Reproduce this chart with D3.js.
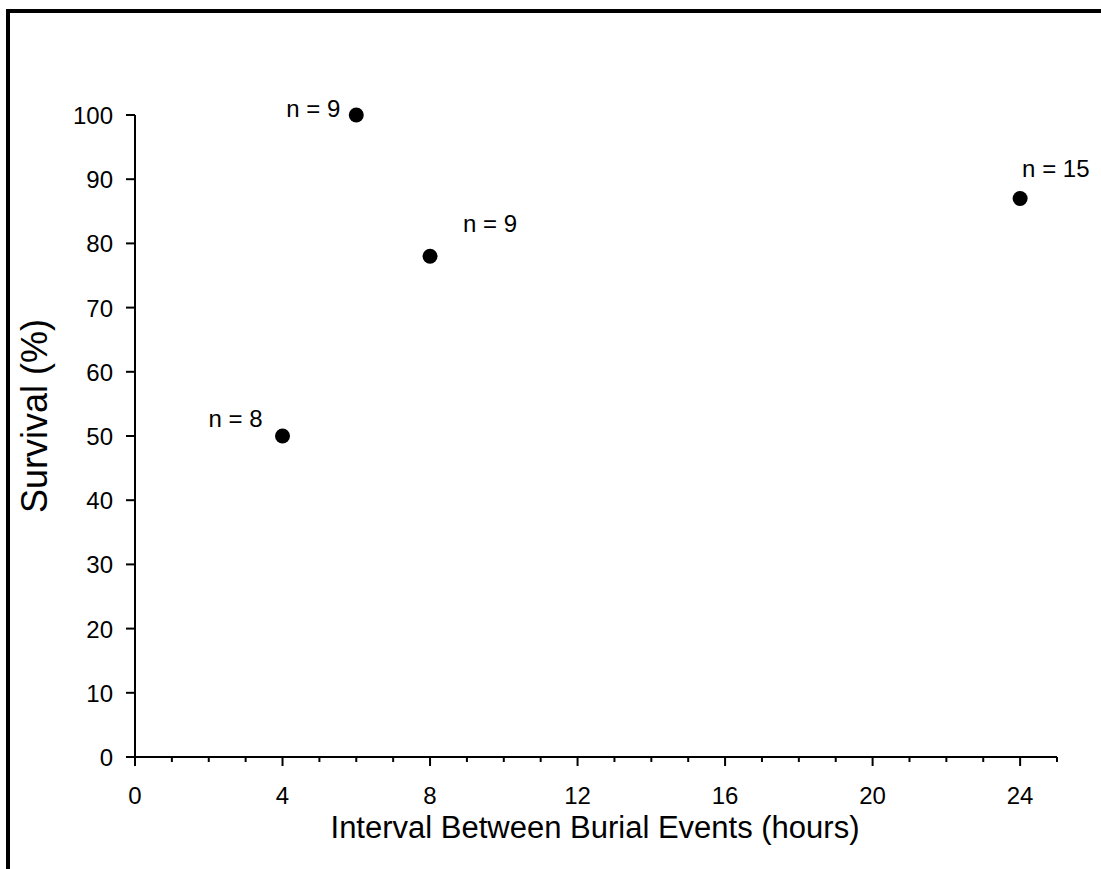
<!DOCTYPE html>
<html>
<head>
<meta charset="utf-8">
<script src="https://cdn.jsdelivr.net/npm/d3@7"></script>
<style>
  body { margin: 0; background: #fff; }
  svg text { font-family: "Liberation Sans", Arial, sans-serif; fill: #000; }
</style>
</head>
<body>
<div id="chart"></div>
<script>
// data
const intervals = [4, 6, 8, 24];
const survival = [50, 100, 78, 87];
const nLabels = ["n = 8", "n = 9", "n = 9", "n = 15"];
const xTicks = [0, 4, 8, 12, 16, 20, 24];
const yTicks = [0, 10, 20, 30, 40, 50, 60, 70, 80, 90, 100];

const W = 1101, H = 869;
const margin = {top: 115, right: 44, bottom: 112, left: 135};

const svg = d3.select("#chart").append("svg")
    .attr("width", W)
    .attr("height", H);

// frame (top and left only, the picture is cropped)
svg.append("line").attr("x1", 8).attr("x2", 8).attr("y1", 9).attr("y2", H)
    .attr("stroke", "#000").attr("stroke-width", 4);
svg.append("line").attr("x1", 6).attr("x2", W).attr("y1", 11).attr("y2", 11)
    .attr("stroke", "#000").attr("stroke-width", 4);

const x = d3.scaleLinear().domain([0, 25]).range([margin.left, W - margin.right]);
const y = d3.scaleLinear().domain([0, 100]).range([H - margin.bottom, margin.top]);

// x axis with minor ticks every hour
const xAxis = svg.append("g").attr("transform", "translate(0," + y(0) + ")");
xAxis.append("line")
    .attr("x1", x(0) - 9).attr("x2", x(25))
    .attr("stroke", "#000").attr("stroke-width", 2);
xAxis.selectAll("line.minor")
    .data(d3.range(1, 26).filter(d => d % 4 !== 0))
    .join("line")
    .attr("class", "minor")
    .attr("x1", d => x(d)).attr("x2", d => x(d))
    .attr("y1", 0).attr("y2", 5)
    .attr("stroke", "#000").attr("stroke-width", 2);
xAxis.selectAll("line.major")
    .data(xTicks)
    .join("line")
    .attr("class", "major")
    .attr("x1", d => x(d)).attr("x2", d => x(d))
    .attr("y1", 0).attr("y2", 9)
    .attr("stroke", "#000").attr("stroke-width", 2);
xAxis.selectAll("text")
    .data(xTicks)
    .join("text")
    .attr("x", d => x(d))
    .attr("y", 47)
    .attr("text-anchor", "middle")
    .attr("font-size", 24)
    .text(d => d);

// y axis
const yAxis = svg.append("g").attr("transform", "translate(" + x(0) + ",0)");
yAxis.append("line")
    .attr("y1", y(0)).attr("y2", y(100))
    .attr("stroke", "#000").attr("stroke-width", 2);
yAxis.selectAll("line.tick")
    .data(yTicks)
    .join("line")
    .attr("class", "tick")
    .attr("x1", -9).attr("x2", 0)
    .attr("y1", d => y(d)).attr("y2", d => y(d))
    .attr("stroke", "#000").attr("stroke-width", 2);
yAxis.selectAll("text")
    .data(yTicks)
    .join("text")
    .attr("x", -22)
    .attr("y", d => y(d) + 9)
    .attr("text-anchor", "end")
    .attr("font-size", 24)
    .text(d => d);

// axis titles
svg.append("text")
    .attr("x", 595).attr("y", 838)
    .attr("text-anchor", "middle")
    .attr("font-size", 31)
    .text("Interval Between Burial Events (hours)");
svg.append("text")
    .attr("transform", "translate(47,416) rotate(-90)")
    .attr("text-anchor", "middle")
    .attr("font-size", 36)
    .text("Survival (%)");

// points
const pts = intervals.map((d, i) => ({x: d, y: survival[i], label: nLabels[i]}));
svg.selectAll("circle")
    .data(pts)
    .join("circle")
    .attr("cx", d => x(d.x))
    .attr("cy", d => y(d.y))
    .attr("r", 7.5)
    .attr("fill", "#000");

// n labels, offsets per point
const labelOffsets = [[-20, -9, "end"], [-16, 2, "end"], [33, -24, "start"], [2, -21, "start"]];
svg.selectAll("text.n")
    .data(pts)
    .join("text")
    .attr("class", "n")
    .attr("x", (d, i) => x(d.x) + labelOffsets[i][0])
    .attr("y", (d, i) => y(d.y) + labelOffsets[i][1])
    .attr("text-anchor", (d, i) => labelOffsets[i][2])
    .attr("font-size", 24)
    .text(d => d.label);
</script>
</body>
</html>
